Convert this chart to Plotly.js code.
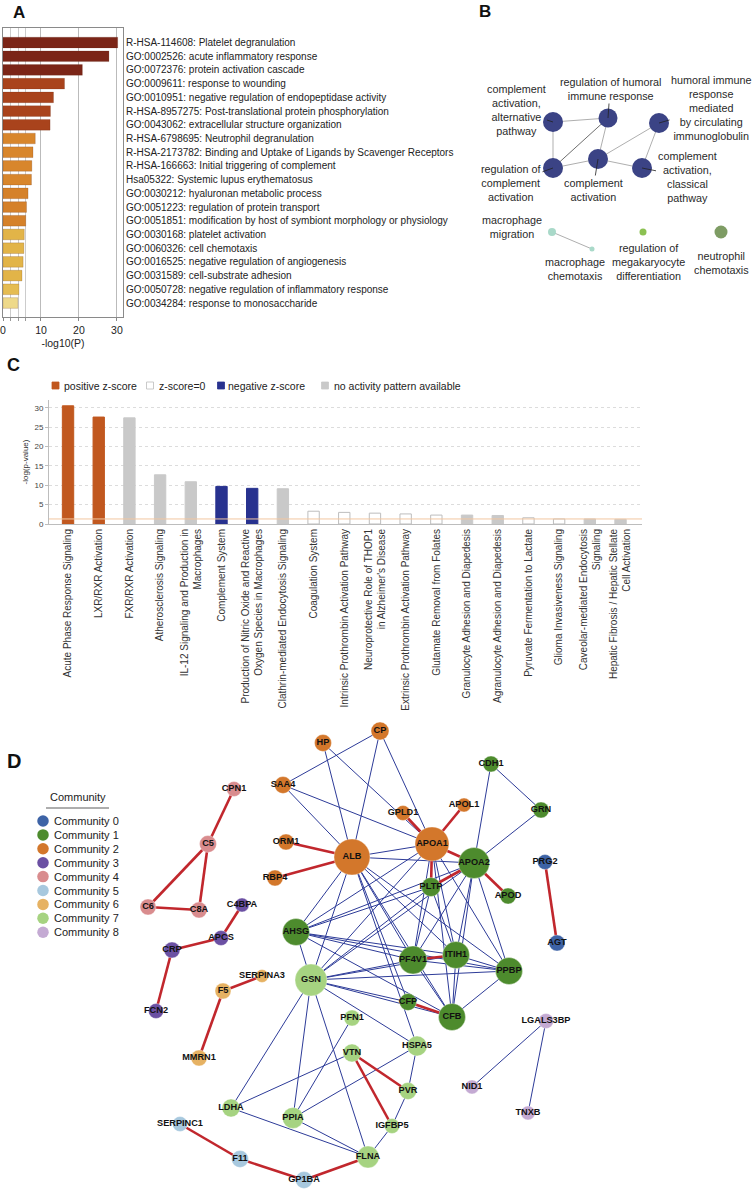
<!DOCTYPE html>
<html><head><meta charset="utf-8">
<script src="https://cdn.plot.ly/plotly-3.0.1.min.js"></script>
<style>html,body{margin:0;padding:0;background:#fff}#chart{width:755px;height:1192px}</style>
</head><body><div id="chart"></div>
<script>
const FONT = "Liberation Sans, Arial, Helvetica, sans-serif";

// ---------------- Panel A data ----------------
const termsA = [
  "R-HSA-114608: Platelet degranulation",
  "GO:0002526: acute inflammatory response",
  "GO:0072376: protein activation cascade",
  "GO:0009611: response to wounding",
  "GO:0010951: negative regulation of endopeptidase activity",
  "R-HSA-8957275: Post-translational protein phosphorylation",
  "GO:0043062: extracellular structure organization",
  "R-HSA-6798695: Neutrophil degranulation",
  "R-HSA-2173782: Binding and Uptake of Ligands by Scavenger Receptors",
  "R-HSA-166663: Initial triggering of complement",
  "Hsa05322: Systemic lupus erythematosus",
  "GO:0030212: hyaluronan metabolic process",
  "GO:0051223: regulation of protein transport",
  "GO:0051851: modification by host of symbiont morphology or physiology",
  "GO:0030168: platelet activation",
  "GO:0060326: cell chemotaxis",
  "GO:0016525: negative regulation of angiogenesis",
  "GO:0031589: cell-substrate adhesion",
  "GO:0050728: negative regulation of inflammatory response",
  "GO:0034284: response to monosaccharide"
];
const valuesA = [30.2, 27.9, 20.9, 16.2, 13.3, 12.5, 12.4, 8.5, 7.9, 7.6, 7.5, 6.6, 6.2, 6.0, 5.6, 5.5, 5.3, 5.0, 4.2, 3.9];
const colorsA = ["#7B2517","#7B2517","#7B2517","#A9431C","#A9431C","#A9431C","#A9431C",
  "#D8862C","#D8862C","#D8862C","#D8862C","#D5812A","#D5812A","#D5812A",
  "#E2B448","#E2B448","#E2B448","#E2B448","#E5BC52","#EED98A"];
const tickValsA = [0, 10, 20, 30];
const gridMinorA = [2, 4, 6];

// ---------------- Panel B data ----------------
const termsB = [
  "complement<br>activation,<br>alternative<br>pathway",
  "regulation of humoral<br>immune response",
  "humoral immune<br>response<br>mediated<br>by circulating<br>immunoglobulin",
  "regulation of<br>complement<br>activation",
  "complement<br>activation",
  "complement<br>activation,<br>classical<br>pathway",
  "macrophage<br>migration",
  "macrophage<br>chemotaxis",
  "regulation of<br>megakaryocyte<br>differentiation",
  "neutrophil<br>chemotaxis"
];
const nodeXB = [553, 608, 659, 553, 598, 642, 552, 592, 643, 721];
const nodeYB = [122, 118, 123, 168, 159, 168, 232, 249, 232, 232];
const sizeB  = [20, 19, 20, 20, 20, 20, 8, 5, 7, 13];
const colorB = ["#3B4385","#3B4385","#3B4385","#3B4385","#3B4385","#3B4385","#A9D9C9","#A9D9C9","#8CC152","#7E9C64"];
const labelXB = [516, 610, 711, 511, 593, 687, 512, 575, 648, 721];
const labelYB = [110, 89, 108, 183, 190, 177, 227, 269, 262, 263];
const leaderB = [true, true, true, true, true, true, false, false, false, false];
const edgesB = [[0,1],[0,3],[3,4],[1,4],[4,2],[4,5],[5,2],[6,7]];
const edgesBdark = [[3,1]];

// ---------------- Panel C data ----------------
const pathwaysC = [
  "Acute Phase Response Signaling",
  "LXR/RXR Activation",
  "FXR/RXR Activation",
  "Atherosclerosis Signaling",
  "IL-12 Signaling and Production in<br>Macrophages",
  "Complement System",
  "Production of Nitric Oxide and Reactive<br>Oxygen Species in Macrophages",
  "Clathrin-mediated Endocytosis Signaling",
  "Coagulation System",
  "Intrinsic Prothrombin Activation Pathway",
  "Neuroprotective Role of THOP1<br>in Alzheimer's Disease",
  "Extrinsic Prothrombin Activation Pathway",
  "Glutamate Removal from Folates",
  "Granulocyte Adhesion and Diapedesis",
  "Agranulocyte Adhesion and Diapedesis",
  "Pyruvate Fermentation to Lactate",
  "Glioma Invasiveness Signaling",
  "Caveolar-mediated Endocytosis<br>Signaling",
  "Hepatic Fibrosis / Hepatic Stellate<br>Cell Activation"
];
const valuesC = [30.5, 27.6, 27.4, 12.7, 10.9, 9.7, 9.2, 9.1, 3.3, 3.0, 2.8, 2.6, 2.3, 2.3, 2.2, 1.6, 1.3, 1.3, 1.2];
const zscoreC = ["pos","pos","none","none","none","neg","neg","none","zero","zero","zero","zero","zero","none","none","zero","zero","none","none"];
const zLegendC = ["positive z-score", "z-score=0", "negative z-score", "no activity pattern available"];
const thresholdC = 1.3;
const tickValsC = [0, 5, 10, 15, 20, 25, 30];

// ---------------- Panel D data ----------------
const genesD = ["CP","HP","SAA4","GPLD1","APOL1","ORM1","ALB","APOA1","RBP4",
  "CDH1","GRN","APOA2","PLTP","APOD","AHSG","PF4V1","ITIH1","PPBP","CFP","CFB",
  "PRG2","AGT","CPN1","C5","C6","C8A","C4BPA","APCS","CRP","FCN2",
  "SERPINA3","F5","MMRN1","SERPINC1","F11","GP1BA",
  "GSN","PFN1","VTN","HSPA5","PVR","LDHA","PPIA","IGFBP5","FLNA",
  "LGALS3BP","NID1","TNXB"];
const geneXD = [380,323,283,403,464,286,352,432,275,
  491,541,474,431,508,296,413,456,509,408,452,
  545,557,234,208,148,199,242,221,172,156,
  262,223,199,180,240,304,
  311,352,352,417,408,231,293,392,368,
  546,472,528];
const geneYD = [731,743,785,813,805,842,857,844,878,
  764,810,863,887,896,932,960,955,971,1002,1017,
  862,943,789,844,907,910,905,938,950,1011,
  976,991,1058,1124,1159,1180,
  980,1018,1053,1046,1091,1108,1118,1126,1157,
  1021,1087,1113];
const communityD = [2,2,2,2,2,2,2,2,2,
  1,1,1,1,1,1,1,1,1,1,1,
  0,0,4,4,4,4,3,3,3,3,
  6,6,6,5,5,5,
  7,7,7,7,7,7,7,7,7,
  8,8,8];
const sizeD = [18,17,17,15,14,16,36,34,16,
  16,16,31,19,16,27,28,27,27,17,27,
  15,16,15,17,16,16,14,15,16,15,
  13,16,16,15,17,17,
  32,16,18,20,17,18,21,15,22,
  15,14,14];
const communityNames = ["Community 0","Community 1","Community 2","Community 3","Community 4","Community 5","Community 6","Community 7","Community 8"];
const communityColors = ["#3D63A6","#4D8B2D","#D3772B","#6B50A3","#D98C8E","#A7C8DE","#E6B263","#A6D381","#C4AAD3"];
const redEdgesD = [["CPN1","C5"],["C5","C6"],["C5","C8A"],["C6","C8A"],["C4BPA","APCS"],["APCS","CRP"],["CRP","FCN2"],
  ["SERPINA3","F5"],["F5","MMRN1"],["ORM1","ALB"],["RBP4","ALB"],["GPLD1","APOA1"],["APOL1","APOA1"],["APOA1","APOA2"],
  ["APOA1","PLTP"],["APOA2","PLTP"],["APOA2","APOD"],["PF4V1","ITIH1"],["CFP","CFB"],["VTN","PVR"],["VTN","IGFBP5"],
  ["SERPINC1","F11"],["F11","GP1BA"],["GP1BA","FLNA"],["PRG2","AGT"]];
const blueEdgesD = [["CP","SAA4"],["CP","ALB"],["CP","APOA1"],["HP","ALB"],["HP","APOA1"],["SAA4","ALB"],["SAA4","APOA1"],
  ["CDH1","APOA2"],["CDH1","GRN"],["GRN","APOA2"],
  ["ALB","APOA1"],["ALB","APOA2"],["ALB","AHSG"],["ALB","GSN"],["ALB","PF4V1"],["ALB","ITIH1"],["ALB","PPBP"],["ALB","CFB"],["ALB","HSPA5"],["ALB","CFP"],
  ["APOA1","AHSG"],["APOA1","GSN"],["APOA1","PF4V1"],["APOA1","ITIH1"],["APOA1","PPBP"],["APOA1","CFB"],
  ["APOA2","AHSG"],["APOA2","PF4V1"],["APOA2","ITIH1"],["APOA2","PPBP"],["APOA2","CFB"],["APOA2","GSN"],
  ["PLTP","AHSG"],["PLTP","PF4V1"],["PLTP","ITIH1"],["PLTP","GSN"],
  ["AHSG","PF4V1"],["AHSG","ITIH1"],["AHSG","PPBP"],["AHSG","CFB"],["AHSG","GSN"],
  ["PF4V1","PPBP"],["PF4V1","CFB"],["PF4V1","GSN"],["ITIH1","PPBP"],["ITIH1","CFB"],["PPBP","CFB"],
  ["GSN","PPBP"],["GSN","ITIH1"],["GSN","CFP"],["GSN","CFB"],["GSN","HSPA5"],["GSN","LDHA"],["GSN","PPIA"],["GSN","FLNA"],
  ["CFP","CFB"],["PF4V1","ITIH1"],["PFN1","PPIA"],["VTN","LDHA"],["HSPA5","PPIA"],["HSPA5","PVR"],["PVR","IGFBP5"],
  ["IGFBP5","FLNA"],["LDHA","FLNA"],["PPIA","FLNA"],["LGALS3BP","NID1"],["LGALS3BP","TNXB"]];

// ---------------- build ----------------
const traces = [];
const annotations = [];
const shapes = [];

// Panel A
traces.push({
  type: "bar", orientation: "h", xaxis: "x", yaxis: "y",
  x: valuesA, y: termsA.map((_, i) => i), width: 0.78,
  marker: { color: colorsA, line: { color: "rgba(80,30,10,0.35)", width: 0.5 } },
  hoverinfo: "skip", showlegend: false
});

// Panel B
function pairLines(pairs, X, Y) {
  const xs = [], ys = [];
  pairs.forEach(([a, b]) => { xs.push(X[a], X[b], null); ys.push(Y[a], Y[b], null); });
  return { xs, ys };
}
const eB = pairLines(edgesB, nodeXB, nodeYB);
traces.push({ type: "scatter", mode: "lines", xaxis: "x2", yaxis: "y2", x: eB.xs, y: eB.ys,
  line: { color: "#AFAFAF", width: 1 }, hoverinfo: "skip", showlegend: false });
const eBd = pairLines(edgesBdark, nodeXB, nodeYB);
traces.push({ type: "scatter", mode: "lines", xaxis: "x2", yaxis: "y2", x: eBd.xs, y: eBd.ys,
  line: { color: "#6E6E6E", width: 1 }, hoverinfo: "skip", showlegend: false });
traces.push({ type: "scatter", mode: "markers", xaxis: "x2", yaxis: "y2", x: nodeXB, y: nodeYB,
  marker: { size: sizeB, color: colorB, opacity: 1, line: { width: 0 } }, hoverinfo: "skip", showlegend: false });
termsB.forEach((t, i) => {
  const a = { text: t, font: { family: FONT, size: 10.8, color: "#2A2A2A" }, align: "center",
    xref: "x2", yref: "y2" };
  if (leaderB[i]) {
    Object.assign(a, { x: nodeXB[i], y: nodeYB[i], ax: labelXB[i], ay: labelYB[i], axref: "x2", ayref: "y2",
      showarrow: true, arrowhead: 0, arrowwidth: 0.8, arrowcolor: "#222", standoff: 0, startstandoff: 0 });
  } else {
    Object.assign(a, { x: labelXB[i], y: labelYB[i], showarrow: false, xanchor: "center", yanchor: "middle" });
  }
  annotations.push(a);
});

// Panel C
const zColor = { pos: "#C1581F", neg: "#28328F", none: "#C9C9C9", zero: "#FFFFFF" };
const zLine = { pos: "#C1581F", neg: "#28328F", none: "#C9C9C9", zero: "#BDBDBD" };
traces.push({
  type: "bar", xaxis: "x3", yaxis: "y3",
  x: pathwaysC.map((_, i) => i), y: valuesC, width: 0.37,
  marker: { color: zscoreC.map(z => zColor[z]), line: { color: zscoreC.map(z => zLine[z]), width: 1 } },
  hoverinfo: "skip", showlegend: false
});
shapes.push({ type: "line", xref: "x3 domain", yref: "y3", x0: 0, x1: 1, y0: thresholdC, y1: thresholdC,
  line: { color: "#F2C7A0", width: 1 }, layer: "above" });
const legSqX = [55.5, 150, 221, 325];
const legTxX = [62, 157, 226, 332];
const legKeys = ["pos", "zero", "neg", "none"];
legKeys.forEach((k, i) => {
  shapes.push({ type: "rect", xref: "x2", yref: "y2", x0: legSqX[i] - 3.5, x1: legSqX[i] + 3.5, y0: 382, y1: 389,
    fillcolor: zColor[k], line: { color: zLine[k], width: 0.8 } });
  annotations.push({ xref: "x2", yref: "y2", x: legTxX[i], y: 385.5, xanchor: "left", yanchor: "middle",
    text: zLegendC[i], showarrow: false, font: { family: FONT, size: 10.5, color: "#222" } });
});

// Panel D
const gi = {}; genesD.forEach((g, i) => gi[g] = i);
function geneLines(pairs) {
  const xs = [], ys = [];
  pairs.forEach(([a, b]) => { xs.push(geneXD[gi[a]], geneXD[gi[b]], null); ys.push(geneYD[gi[a]], geneYD[gi[b]], null); });
  return { xs, ys };
}
const eBlue = geneLines(blueEdgesD);
traces.push({ type: "scatter", mode: "lines", xaxis: "x2", yaxis: "y2", x: eBlue.xs, y: eBlue.ys,
  line: { color: "#2D3B98", width: 1 }, hoverinfo: "skip", showlegend: false });
const eRed = geneLines(redEdgesD);
traces.push({ type: "scatter", mode: "lines", xaxis: "x2", yaxis: "y2", x: eRed.xs, y: eRed.ys,
  line: { color: "#C1272D", width: 2.6 }, hoverinfo: "skip", showlegend: false });
traces.push({ type: "scatter", mode: "markers", xaxis: "x2", yaxis: "y2", x: geneXD, y: geneYD,
  marker: { size: sizeD, opacity: 1, color: communityD.map(c => communityColors[c]), line: { width: 0.6, color: "rgba(255,255,255,0.6)" } },
  hoverinfo: "skip", showlegend: false });
traces.push({ type: "scatter", mode: "text", xaxis: "x2", yaxis: "y2", x: geneXD, y: geneYD,
  text: genesD.map(g => "<b>" + g + "</b>"), textposition: "middle center",
  textfont: { family: FONT, size: 9.2, color: "#111" }, hoverinfo: "skip", showlegend: false });

const legDY = communityNames.map((_, i) => 821 + i * 13.9);
traces.push({ type: "scatter", mode: "markers", xaxis: "x2", yaxis: "y2",
  x: communityNames.map(() => 43), y: legDY,
  marker: { size: 11.5, opacity: 1, color: communityColors }, hoverinfo: "skip", showlegend: false });
communityNames.forEach((n, i) => annotations.push({ xref: "x2", yref: "y2", x: 52, y: legDY[i], xanchor: "left", yanchor: "middle",
  text: n, showarrow: false, font: { family: FONT, size: 11, color: "#222" } }));
annotations.push({ xref: "x2", yref: "y2", x: 78, y: 797, xanchor: "center", yanchor: "middle",
  text: "Community", showarrow: false, font: { family: FONT, size: 11, color: "#222" } });
shapes.push({ type: "line", xref: "x2", yref: "y2", x0: 46, x1: 109, y0: 808, y1: 808, line: { color: "#333", width: 0.8 } });

// Panel letters
[["A", 18.5, 12.5, 17], ["B", 485, 11, 17], ["C", 13.5, 365, 18], ["D", 13.5, 761, 20]].forEach(([t, x, y, s]) =>
  annotations.push({ xref: "x2", yref: "y2", x: x, y: y, xanchor: "center", yanchor: "middle", text: "<b>" + t + "</b>",
    showarrow: false, font: { family: FONT, size: s, color: "#111" } }));

const W = 755, H = 1192;
const layout = {
  width: W, height: H, margin: { l: 0, r: 0, t: 0, b: 0 },
  paper_bgcolor: "#fff", plot_bgcolor: "rgba(0,0,0,0)",
  font: { family: FONT, color: "#222" }, showlegend: false,
  xaxis: {
    domain: [3 / W, 123 / W], anchor: "y", range: [0, 31.6],
    tickvals: tickValsA, ticks: "outside", ticklen: 3, tickcolor: "#888",
    showgrid: true, gridcolor: "#BBBBBB", gridwidth: 1,
    minor: { tickvals: gridMinorA, showgrid: true, gridcolor: "#CCCCCC", ticks: "outside", ticklen: 3, tickcolor: "#999" },
    showline: true, mirror: true, linecolor: "#8A8A8A", linewidth: 1, zeroline: false,
    tickfont: { family: FONT, size: 10.5, color: "#222" },
    title: { text: "-log10(P)", font: { family: FONT, size: 10.5, color: "#222" }, standoff: 5 },
    automargin: false, fixedrange: true
  },
  yaxis: {
    domain: [1 - 317 / H, 1 - 28 / H], anchor: "x", side: "right", range: [20.02, -1.06],
    tickvals: termsA.map((_, i) => i), ticktext: termsA, ticks: "",
    tickfont: { family: FONT, size: 10, color: "#222" },
    showgrid: false, zeroline: false, showline: true, mirror: true, linecolor: "#8A8A8A", linewidth: 1,
    automargin: false, fixedrange: true
  },
  xaxis2: { domain: [0, 1], anchor: "y2", range: [0, W], visible: false, fixedrange: true },
  yaxis2: { domain: [0, 1], anchor: "x2", range: [H, 0], visible: false, fixedrange: true },
  xaxis3: {
    domain: [49 / W, 642 / W], anchor: "y3", range: [-0.62, 18.7],
    tickvals: pathwaysC.map((_, i) => i), ticktext: pathwaysC, tickangle: -90, ticks: "",
    tickfont: { family: FONT, size: 10, color: "#333" },
    showgrid: false, zeroline: false, showline: true, linecolor: "#BDBDBD", linewidth: 1,
    automargin: false, fixedrange: true
  },
  yaxis3: {
    domain: [1 - 524 / H, 1 - 400 / H], anchor: "x3", range: [0, 32],
    tickvals: tickValsC, ticks: "outside", ticklen: 3, tickcolor: "#BDBDBD",
    tickfont: { family: FONT, size: 8, color: "#444" },
    showgrid: true, gridcolor: "#DCDCDC", griddash: "dot", gridwidth: 1,
    zeroline: false, showline: true, linecolor: "#BDBDBD", linewidth: 1,
    title: { text: "-log(p-value)", font: { family: FONT, size: 8, color: "#333" }, standoff: 4 },
    automargin: false, fixedrange: true
  },
  annotations: annotations, shapes: shapes
};
Plotly.newPlot("chart", traces, layout, { staticPlot: true, displayModeBar: false });
</script>
</body></html>
